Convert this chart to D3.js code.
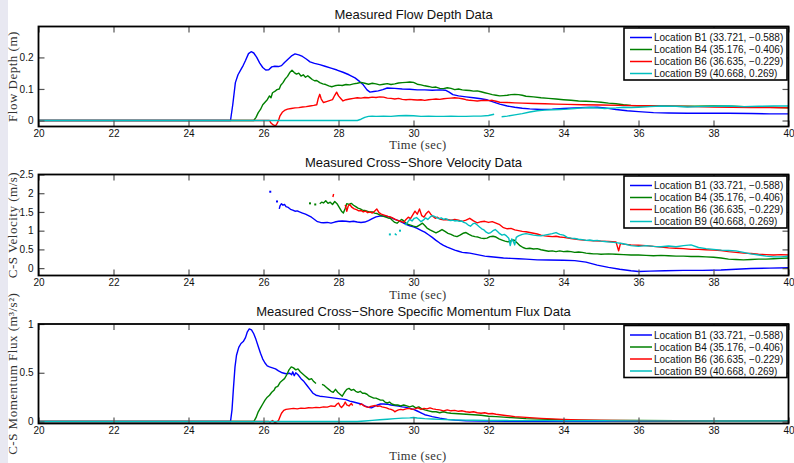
<!DOCTYPE html>
<html>
<head>
<meta charset="utf-8">
<script src="https://cdn.jsdelivr.net/npm/d3@7/dist/d3.min.js"></script>
<style>
body{margin:0;background:#fff}
svg{display:block}
</style>
</head>
<body>
<script>
// time (s) and value pairs, null = no data (gap)
var locations=["Location B1 (33.721, \u22120.588)","Location B4 (35.176, \u22120.406)","Location B6 (36.635, \u22120.229)","Location B9 (40.668, 0.269)"]
var xTicks=[20,22,24,26,28,30,32,34,36,38,40]
var depthTicks=[0,0.1,0.2]
var velTicks=[0,0.5,1,1.5,2,2.5]
var fluxTicks=[0,0.5,1]

var depthB1=[[20,0],[25.12,0],[25.18,0.05],[25.25,0.12],[25.32,0.145],[25.4,0.162],[25.46,0.175],[25.52,0.19],[25.6,0.212],[25.67,0.218],[25.74,0.214],[25.82,0.2],[25.9,0.182],[25.98,0.168],[26.06,0.16],[26.14,0.161],[26.22,0.17],[26.3,0.172],[26.4,0.171],[26.48,0.174],[26.56,0.184],[26.66,0.195],[26.76,0.206],[26.84,0.211],[26.94,0.208],[27.04,0.203],[27.14,0.195],[27.24,0.186],[27.36,0.181],[27.5,0.177],[27.64,0.172],[27.8,0.166],[27.96,0.16],[28.12,0.153],[28.28,0.145],[28.44,0.135],[28.56,0.124],[28.66,0.113],[28.76,0.097],[28.84,0.09],[28.94,0.092],[29.06,0.094],[29.18,0.098],[29.3,0.103],[29.5,0.102],[29.7,0.1],[29.9,0.099],[30.1,0.097],[30.3,0.097],[30.5,0.096],[30.7,0.097],[30.85,0.096],[30.95,0.09],[31.05,0.082],[31.2,0.078],[31.4,0.075],[31.6,0.072],[31.8,0.069],[31.95,0.066],[32.1,0.06],[32.3,0.052],[32.5,0.046],[32.7,0.042],[32.9,0.039],[33.1,0.037],[33.4,0.035],[33.7,0.036],[34.0,0.038],[34.3,0.04],[34.6,0.041],[34.9,0.042],[35.1,0.04],[35.4,0.035],[35.7,0.031],[36.0,0.028],[36.4,0.025],[36.8,0.024],[37.3,0.023],[37.8,0.023],[38.4,0.023],[39.0,0.022],[39.5,0.021],[40,0.021]]
var depthB4=[[20,0],[25.74,0],[25.8,0.01],[25.86,0.025],[25.92,0.035],[25.98,0.05],[26.04,0.058],[26.1,0.066],[26.16,0.078],[26.2,0.072],[26.24,0.088],[26.3,0.092],[26.36,0.098],[26.42,0.1],[26.46,0.112],[26.52,0.12],[26.58,0.132],[26.64,0.14],[26.7,0.152],[26.76,0.159],[26.82,0.152],[26.88,0.147],[26.94,0.15],[27.0,0.141],[27.06,0.145],[27.12,0.137],[27.18,0.142],[27.24,0.136],[27.3,0.13],[27.36,0.126],[27.42,0.127],[27.5,0.12],[27.58,0.116],[27.66,0.114],[27.74,0.11],[27.82,0.107],[27.9,0.11],[28.0,0.112],[28.1,0.111],[28.2,0.114],[28.3,0.113],[28.4,0.116],[28.5,0.118],[28.6,0.121],[28.7,0.118],[28.8,0.115],[28.9,0.118],[29.0,0.116],[29.1,0.113],[29.2,0.115],[29.3,0.117],[29.4,0.114],[29.5,0.116],[29.6,0.119],[29.7,0.12],[29.8,0.121],[29.9,0.122],[30.0,0.121],[30.1,0.115],[30.2,0.113],[30.3,0.11],[30.4,0.108],[30.5,0.105],[30.6,0.106],[30.7,0.102],[30.8,0.101],[30.9,0.104],[31.0,0.102],[31.1,0.098],[31.2,0.1],[31.3,0.097],[31.4,0.096],[31.5,0.095],[31.6,0.093],[31.7,0.094],[31.8,0.091],[31.9,0.088],[32.0,0.085],[32.1,0.082],[32.2,0.08],[32.3,0.078],[32.4,0.079],[32.5,0.08],[32.6,0.082],[32.7,0.083],[32.8,0.082],[32.9,0.08],[33.0,0.077],[33.2,0.075],[33.4,0.072],[33.6,0.07],[33.8,0.068],[34.0,0.066],[34.2,0.064],[34.4,0.062],[34.6,0.061],[34.8,0.06],[35.0,0.058],[35.2,0.055],[35.4,0.053],[35.6,0.05],[35.8,0.048],[36.0,0.047],[36.3,0.046],[36.6,0.046],[37.0,0.045],[37.5,0.045],[38.0,0.046],[38.5,0.045],[39.0,0.043],[39.5,0.042],[40,0.04]]
var depthB6=[[20,0],[26.16,0],[26.2,-0.008],[26.26,-0.014],[26.32,-0.017],[26.36,-0.01],[26.4,0.0],[26.44,0.015],[26.5,0.026],[26.56,0.032],[26.64,0.036],[26.74,0.038],[26.84,0.04],[26.94,0.041],[27.04,0.043],[27.14,0.044],[27.24,0.046],[27.34,0.048],[27.42,0.05],[27.46,0.07],[27.5,0.083],[27.54,0.068],[27.6,0.057],[27.68,0.06],[27.76,0.063],[27.84,0.066],[27.9,0.08],[27.95,0.09],[28.0,0.078],[28.06,0.07],[28.12,0.062],[28.2,0.066],[28.3,0.068],[28.4,0.07],[28.5,0.072],[28.6,0.071],[28.7,0.073],[28.8,0.072],[28.9,0.074],[29.0,0.073],[29.1,0.075],[29.2,0.074],[29.3,0.071],[29.4,0.07],[29.5,0.068],[29.6,0.07],[29.7,0.067],[29.8,0.066],[29.9,0.067],[30.0,0.066],[30.1,0.065],[30.2,0.066],[30.3,0.064],[30.4,0.066],[30.5,0.067],[30.6,0.068],[30.7,0.067],[30.8,0.069],[30.9,0.07],[31.0,0.071],[31.1,0.072],[31.2,0.071],[31.3,0.069],[31.4,0.066],[31.5,0.064],[31.6,0.063],[31.7,0.062],[31.8,0.063],[31.9,0.064],[32.0,0.063],[32.1,0.064],[32.2,0.061],[32.3,0.058],[32.5,0.057],[32.7,0.056],[32.9,0.055],[33.2,0.054],[33.5,0.053],[33.8,0.052],[34.1,0.051],[34.5,0.05],[35.0,0.049],[35.5,0.048],[36.0,0.047],[36.5,0.046],[37.0,0.045],[37.5,0.044],[38.0,0.043],[38.5,0.042],[39.0,0.041],[39.5,0.041],[40,0.04]]
var depthB9=[[20,0],[28.5,0],[28.6,0.004],[28.7,0.01],[28.8,0.013],[28.9,0.014],[29.0,0.013],[29.2,0.014],[29.4,0.013],[29.6,0.015],[29.8,0.016],[30.0,0.015],[30.2,0.013],[30.4,0.014],[30.6,0.013],[30.8,0.013],[31.0,0.014],[31.2,0.013],[31.4,0.013],[31.6,0.014],[31.8,0.014],[32.0,0.016],[32.15,0.02],[32.2,null],[32.32,null],[32.35,0.012],[32.5,0.014],[32.7,0.018],[32.9,0.022],[33.1,0.027],[33.3,0.031],[33.5,0.033],[33.7,0.034],[33.9,0.035],[34.1,0.036],[34.3,0.038],[34.5,0.04],[34.7,0.041],[34.9,0.04],[35.1,0.038],[35.4,0.04],[35.6,0.042],[35.8,0.041],[36.0,0.042],[36.3,0.044],[36.6,0.046],[37.0,0.045],[37.3,0.043],[37.6,0.044],[38.0,0.045],[38.4,0.046],[38.8,0.044],[39.2,0.045],[39.6,0.046],[40,0.046]]

var velB1=[[26.18,2.04],[26.22,null],[26.36,1.78],[26.39,null],[26.42,1.58],[26.44,1.66],[26.48,1.72],[26.52,1.68],[26.56,1.7],[26.6,1.64],[26.66,1.62],[26.72,1.57],[26.78,1.55],[26.84,1.52],[26.9,1.53],[26.96,1.5],[27.04,1.47],[27.12,1.44],[27.2,1.4],[27.28,1.36],[27.36,1.3],[27.44,1.24],[27.52,1.22],[27.6,1.21],[27.7,1.22],[27.8,1.2],[27.9,1.23],[28.0,1.25],[28.1,1.26],[28.2,1.25],[28.3,1.24],[28.4,1.25],[28.5,1.23],[28.6,1.22],[28.7,1.23],[28.8,1.27],[28.9,1.32],[29.0,1.37],[29.1,1.39],[29.2,1.39],[29.3,1.38],[29.4,1.35],[29.5,1.3],[29.6,1.27],[29.7,1.22],[29.8,1.17],[29.9,1.13],[30.0,1.1],[30.1,1.06],[30.2,1.01],[30.3,0.96],[30.4,0.89],[30.5,0.82],[30.6,0.74],[30.7,0.67],[30.8,0.61],[30.9,0.56],[31.0,0.52],[31.1,0.48],[31.2,0.45],[31.3,0.42],[31.4,0.41],[31.5,0.4],[31.6,0.38],[31.7,0.36],[31.8,0.34],[31.9,0.32],[32.0,0.31],[32.2,0.29],[32.4,0.27],[32.6,0.26],[32.8,0.25],[33.0,0.24],[33.3,0.22],[33.6,0.215],[34.0,0.21],[34.3,0.2],[34.6,0.16],[34.9,0.08],[35.2,0.02],[35.5,-0.03],[35.8,-0.07],[36.0,-0.09],[36.3,-0.08],[36.7,-0.07],[37.2,-0.06],[37.7,-0.06],[38.2,-0.05],[38.6,-0.03],[39.0,-0.01],[39.5,0.0],[40,0.01]]
var velB4=[[27.24,1.73],[27.3,null],[27.38,1.7],[27.44,null],[27.5,1.72],[27.55,1.76],[27.6,1.74],[27.66,1.8],[27.72,1.73],[27.78,1.76],[27.84,1.7],[27.9,1.78],[27.96,1.72],[28.02,1.62],[28.08,1.52],[28.13,1.47],[28.18,1.6],[28.22,1.72],[28.28,1.7],[28.34,1.73],[28.4,1.68],[28.46,1.64],[28.52,1.6],[28.58,1.58],[28.64,1.55],[28.7,1.54],[28.76,1.52],[28.82,1.5],[28.9,1.5],[28.96,1.47],[29.02,1.46],[29.08,1.43],[29.14,1.4],[29.2,1.38],[29.26,1.36],[29.32,1.34],[29.38,1.33],[29.44,1.27],[29.5,1.22],[29.56,1.2],[29.62,1.25],[29.68,1.3],[29.74,1.26],[29.8,1.2],[29.86,1.17],[29.92,1.15],[30.0,1.12],[30.08,1.1],[30.16,1.15],[30.24,1.2],[30.3,1.14],[30.36,1.07],[30.44,1.02],[30.52,0.98],[30.6,0.94],[30.68,0.98],[30.76,1.03],[30.84,0.98],[30.92,0.93],[31.0,0.9],[31.08,0.86],[31.16,0.84],[31.24,0.88],[31.32,0.93],[31.4,0.95],[31.48,0.9],[31.56,0.86],[31.64,0.84],[31.72,0.83],[31.8,0.8],[31.88,0.79],[31.96,0.8],[32.04,0.84],[32.12,0.85],[32.2,0.83],[32.28,0.78],[32.36,0.75],[32.44,0.72],[32.52,0.7],[32.6,0.73],[32.68,0.75],[32.76,0.68],[32.84,0.6],[32.92,0.55],[33.0,0.52],[33.1,0.53],[33.2,0.51],[33.3,0.52],[33.4,0.49],[33.5,0.47],[33.6,0.45],[33.7,0.46],[33.8,0.44],[33.9,0.46],[34.0,0.44],[34.1,0.45],[34.2,0.44],[34.3,0.42],[34.4,0.43],[34.5,0.42],[34.6,0.4],[34.7,0.39],[34.8,0.38],[34.9,0.38],[35.0,0.37],[35.2,0.38],[35.4,0.37],[35.6,0.36],[35.8,0.35],[36.0,0.35],[36.2,0.34],[36.4,0.33],[36.6,0.34],[36.8,0.33],[37.0,0.32],[37.2,0.32],[37.4,0.31],[37.6,0.31],[37.8,0.3],[38.0,0.29],[38.2,0.27],[38.4,0.24],[38.6,0.23],[38.8,0.22],[39.0,0.23],[39.2,0.24],[39.4,0.24],[39.6,0.25],[39.8,0.26],[40,0.27]]
var velB6=[[27.85,1.9],[27.87,1.98],[27.9,null],[28.18,1.69],[28.22,1.52],[28.26,1.66],[28.3,1.7],[28.36,1.62],[28.42,1.58],[28.48,1.56],[28.54,1.53],[28.6,1.54],[28.66,1.5],[28.72,1.52],[28.78,1.48],[28.84,1.5],[28.9,1.47],[28.96,1.52],[29.02,1.58],[29.08,1.48],[29.14,1.44],[29.2,1.42],[29.26,1.4],[29.32,1.38],[29.38,1.37],[29.44,1.34],[29.5,1.31],[29.56,1.28],[29.62,1.26],[29.68,1.24],[29.74,1.22],[29.8,1.3],[29.86,1.36],[29.92,1.32],[29.98,1.42],[30.04,1.52],[30.1,1.44],[30.16,1.58],[30.22,1.4],[30.28,1.36],[30.34,1.46],[30.4,1.52],[30.46,1.44],[30.52,1.38],[30.58,1.33],[30.64,1.36],[30.7,1.31],[30.8,1.29],[30.9,1.3],[31.0,1.28],[31.1,1.3],[31.2,1.28],[31.3,1.25],[31.4,1.28],[31.5,1.33],[31.6,1.26],[31.7,1.21],[31.8,1.24],[31.9,1.25],[32.0,1.22],[32.1,1.24],[32.2,1.2],[32.3,1.16],[32.4,1.08],[32.5,1.05],[32.6,1.06],[32.7,1.02],[32.8,1.0],[32.9,0.98],[33.0,0.97],[33.1,0.95],[33.2,0.93],[33.3,0.91],[33.4,0.88],[33.5,0.86],[33.6,0.85],[33.7,0.84],[33.8,0.85],[33.9,0.83],[34.0,0.82],[34.2,0.79],[34.4,0.76],[34.6,0.74],[34.8,0.73],[35.0,0.72],[35.2,0.71],[35.4,0.7],[35.47,0.46],[35.52,0.66],[35.6,0.64],[35.8,0.62],[36.0,0.61],[36.2,0.6],[36.4,0.58],[36.6,0.56],[36.8,0.54],[37.0,0.53],[37.2,0.52],[37.4,0.5],[37.6,0.5],[37.8,0.49],[38.0,0.48],[38.2,0.47],[38.4,0.44],[38.6,0.42],[38.8,0.4],[39.0,0.39],[39.2,0.37],[39.4,0.36],[39.6,0.35],[39.8,0.36],[40,0.35]]
var velB9=[[29.37,0.9],[29.42,null],[29.5,0.92],[29.55,0.88],[29.58,null],[29.64,1.0],[29.68,null],[29.78,1.15],[29.84,1.22],[29.9,1.3],[29.96,1.26],[30.02,1.33],[30.08,1.35],[30.14,1.3],[30.2,1.24],[30.26,1.28],[30.32,1.34],[30.38,1.3],[30.44,1.36],[30.5,1.4],[30.56,1.38],[30.62,1.35],[30.68,1.32],[30.74,1.34],[30.8,1.3],[30.86,1.32],[30.92,1.29],[30.98,1.27],[31.04,1.28],[31.1,1.26],[31.16,1.27],[31.22,1.25],[31.28,1.26],[31.34,1.22],[31.4,1.2],[31.46,1.15],[31.52,1.12],[31.58,1.18],[31.64,1.2],[31.7,1.15],[31.76,1.1],[31.82,1.05],[31.88,1.02],[31.94,0.96],[32.0,0.93],[32.06,0.95],[32.12,1.0],[32.18,1.03],[32.24,0.98],[32.3,0.92],[32.36,0.88],[32.42,0.9],[32.48,0.86],[32.54,0.8],[32.58,0.6],[32.62,0.78],[32.66,0.72],[32.7,0.62],[32.74,0.82],[32.8,0.86],[32.9,0.9],[33.0,0.92],[33.1,0.9],[33.2,0.88],[33.3,0.87],[33.4,0.86],[33.5,0.88],[33.6,0.9],[33.7,0.92],[33.8,0.95],[33.9,0.9],[34.0,0.88],[34.1,0.82],[34.2,0.8],[34.3,0.79],[34.4,0.77],[34.5,0.76],[34.6,0.74],[34.7,0.75],[34.8,0.73],[34.9,0.74],[35.0,0.72],[35.1,0.71],[35.2,0.7],[35.4,0.68],[35.6,0.65],[35.8,0.6],[36.0,0.58],[36.2,0.6],[36.4,0.58],[36.6,0.57],[36.8,0.59],[37.0,0.57],[37.2,0.6],[37.4,0.62],[37.6,0.55],[37.8,0.52],[38.0,0.5],[38.2,0.48],[38.4,0.47],[38.6,0.46],[38.8,0.42],[39.0,0.38],[39.2,0.35],[39.4,0.32],[39.6,0.3],[39.8,0.3],[40,0.32]]

var fluxB1=[[20,0],[25.12,0],[25.16,0.12],[25.2,0.35],[25.24,0.56],[25.28,0.68],[25.34,0.76],[25.4,0.8],[25.46,0.82],[25.52,0.86],[25.57,0.92],[25.62,0.95],[25.68,0.94],[25.74,0.9],[25.8,0.84],[25.86,0.77],[25.92,0.7],[25.98,0.64],[26.04,0.6],[26.1,0.57],[26.16,0.56],[26.24,0.55],[26.32,0.54],[26.4,0.52],[26.5,0.5],[26.6,0.49],[26.7,0.495],[26.75,0.48],[26.78,0.51],[26.82,0.47],[26.86,0.5],[26.92,0.48],[27.0,0.44],[27.08,0.41],[27.16,0.37],[27.24,0.33],[27.32,0.29],[27.4,0.27],[27.5,0.26],[27.6,0.255],[27.7,0.25],[27.8,0.245],[27.9,0.24],[28.0,0.235],[28.1,0.23],[28.2,0.225],[28.3,0.21],[28.4,0.2],[28.5,0.19],[28.6,0.18],[28.7,0.16],[28.8,0.145],[28.88,0.14],[28.96,0.155],[29.04,0.17],[29.12,0.18],[29.2,0.18],[29.3,0.178],[29.4,0.17],[29.5,0.165],[29.6,0.158],[29.7,0.15],[29.8,0.145],[29.9,0.135],[30.0,0.125],[30.1,0.108],[30.2,0.09],[30.3,0.07],[30.4,0.06],[30.5,0.05],[30.7,0.035],[30.9,0.022],[31.1,0.015],[31.4,0.008],[31.8,0.004],[32.5,0.002],[40,0.002]]
var fluxB4=[[20,0],[25.74,0],[25.8,0.04],[25.86,0.1],[25.92,0.14],[25.98,0.18],[26.04,0.22],[26.1,0.25],[26.16,0.27],[26.22,0.3],[26.28,0.32],[26.32,0.35],[26.38,0.36],[26.44,0.4],[26.5,0.42],[26.56,0.44],[26.62,0.48],[26.68,0.53],[26.74,0.56],[26.8,0.55],[26.86,0.53],[26.92,0.54],[26.98,0.51],[27.04,0.49],[27.1,0.47],[27.16,0.45],[27.22,0.43],[27.28,0.44],[27.34,0.41],[27.4,0.39],[27.44,null],[27.52,null],[27.56,0.38],[27.62,0.37],[27.68,0.35],[27.74,0.33],[27.8,0.31],[27.86,0.3],[27.92,0.33],[27.98,0.3],[28.04,0.28],[28.1,0.26],[28.16,0.3],[28.22,0.33],[28.28,0.34],[28.34,0.32],[28.4,0.33],[28.46,0.31],[28.52,0.3],[28.58,0.31],[28.64,0.29],[28.7,0.29],[28.76,0.28],[28.82,0.26],[28.88,0.25],[28.94,0.24],[29.0,0.24],[29.06,0.23],[29.12,0.22],[29.18,0.22],[29.24,0.2],[29.3,0.19],[29.36,0.2],[29.42,0.18],[29.5,0.17],[29.58,0.17],[29.66,0.16],[29.74,0.17],[29.82,0.16],[29.9,0.15],[29.98,0.16],[30.06,0.14],[30.14,0.15],[30.22,0.13],[30.3,0.12],[30.4,0.11],[30.5,0.1],[30.6,0.1],[30.7,0.09],[30.8,0.1],[30.9,0.09],[31.0,0.085],[31.2,0.08],[31.4,0.075],[31.6,0.07],[31.8,0.065],[32.0,0.055],[32.2,0.05],[32.4,0.045],[32.6,0.04],[32.8,0.036],[33.0,0.03],[33.4,0.025],[33.8,0.02],[34.3,0.015],[35.0,0.012],[36.0,0.01],[37.0,0.008],[38.0,0.007],[39.0,0.006],[40,0.005]]
var fluxB6=[[20,0],[26.14,0],[26.18,-0.005],[26.24,0.01],[26.3,-0.01],[26.36,0],[26.4,0.01],[26.44,0.05],[26.48,0.085],[26.54,0.115],[26.6,0.125],[26.7,0.13],[26.8,0.135],[26.9,0.13],[27.0,0.138],[27.1,0.135],[27.2,0.142],[27.3,0.14],[27.4,0.145],[27.5,0.143],[27.6,0.15],[27.7,0.148],[27.8,0.16],[27.9,0.155],[27.96,0.18],[28.0,0.19],[28.04,0.16],[28.08,0.145],[28.14,0.17],[28.18,0.2],[28.22,0.17],[28.28,0.16],[28.34,0.185],[28.38,0.165],[28.42,null],[28.5,null],[28.56,0.17],[28.62,0.18],[28.68,0.16],[28.74,0.15],[28.8,0.145],[28.86,0.155],[28.92,0.16],[28.98,0.165],[29.04,0.155],[29.1,0.16],[29.16,0.15],[29.22,0.145],[29.28,0.14],[29.34,0.13],[29.4,0.125],[29.46,0.115],[29.5,0.1],[29.54,0.11],[29.6,0.12],[29.66,0.125],[29.72,0.12],[29.8,0.13],[29.88,0.135],[29.96,0.125],[30.04,0.13],[30.12,0.14],[30.2,0.125],[30.28,0.135],[30.36,0.13],[30.44,0.14],[30.52,0.13],[30.6,0.125],[30.7,0.12],[30.8,0.11],[30.9,0.12],[31.0,0.11],[31.1,0.115],[31.2,0.105],[31.3,0.11],[31.4,0.1],[31.5,0.095],[31.6,0.1],[31.7,0.09],[31.8,0.085],[31.9,0.09],[32.0,0.08],[32.1,0.082],[32.2,0.075],[32.3,0.07],[32.4,0.065],[32.5,0.06],[32.7,0.05],[32.9,0.045],[33.1,0.04],[33.4,0.033],[33.7,0.027],[34.0,0.022],[34.4,0.017],[34.8,0.014],[35.3,0.011],[36.0,0.009],[37.0,0.007],[38.0,0.005],[39.0,0.004],[40,0.003]]
var fluxB9=[[20,0],[28.5,0],[28.7,0.006],[28.9,0.012],[29.1,0.018],[29.3,0.024],[29.5,0.03],[29.7,0.035],[29.9,0.038],[30.0,0.042],[30.1,0.036],[30.3,0.03],[30.5,0.026],[30.7,0.022],[31.0,0.018],[31.3,0.015],[31.6,0.013],[32.0,0.011],[32.5,0.01],[33.0,0.009],[33.5,0.009],[34.0,0.008],[35.0,0.008],[36.0,0.007],[37.0,0.007],[38.0,0.006],[39.0,0.006],[40,0.006]]

var colors=["#0000ff","#008000","#ff0000","#00bfbf"]

var screen={width:794,height:463}
var left=38.5,right=788.5

var panels=[
  {top:26.5,bottom:126.5,domain:[-0.019,0.298],ticks:depthTicks,title:"Measured Flow Depth Data",titleY:18.5,ylabel:"Flow Depth (m)",xlabelY:149,series:[depthB1,depthB4,depthB6,depthB9]},
  {top:174.5,bottom:275.5,domain:[-0.197,2.5],ticks:velTicks,title:"Measured Cross\u2212Shore Velocity Data",titleY:167,ylabel:"C-S Velocity (m/s)",xlabelY:298.5,series:[velB1,velB4,velB6,velB9]},
  {top:324,bottom:423.5,domain:[-0.02,1],ticks:fluxTicks,title:"Measured Cross\u2212Shore Specific Momentum Flux Data",titleY:315.5,ylabel:"C-S Momentum Flux (m\u00b3/s\u00b2)",xlabelY:459.5,series:[fluxB1,fluxB4,fluxB6,fluxB9]}
]

var svg=d3.select("body").append("svg")
          .attr("width",screen.width)
          .attr("height",screen.height)

svg.append("rect").attr("x",0).attr("y",0).attr("width",8).attr("height",screen.height).attr("fill","#e8e8f1")

var xScale=d3.scaleLinear().domain([20,40]).range([left,right])

panels.forEach(function(p,pi){
  var yScale=d3.scaleLinear().domain(p.domain).range([p.bottom,p.top])
  var g=svg.append("g")

  g.append("clipPath").attr("id","clip"+pi)
   .append("rect").attr("x",left).attr("y",p.top).attr("width",right-left).attr("height",p.bottom-p.top)

  var plot=g.append("g").attr("clip-path","url(#clip"+pi+")")
  var line=d3.line()
             .defined(function(d){return d[1]!=null})
             .x(function(d){return xScale(d[0])})
             .y(function(d){return yScale(d[1])})

  p.series.forEach(function(s,si){
    plot.append("path")
        .datum(s)
        .attr("d",line)
        .attr("fill","none")
        .attr("stroke",colors[si])
        .attr("stroke-width",1.4)
        .attr("stroke-linejoin","round")
    // lone samples between gaps -> small dots
    var lone=s.filter(function(d,i){
      if(d[1]==null) return false
      var prev=i>0?s[i-1][1]:null, next=i<s.length-1?s[i+1][1]:null
      return prev==null&&next==null
    })
    plot.selectAll(".dot"+si).data(lone).enter().append("rect")
        .attr("x",function(d){return xScale(d[0])-1})
        .attr("y",function(d){return yScale(d[1])-1})
        .attr("width",2).attr("height",2)
        .attr("fill",colors[si])
  })

  //axis
  var xb=d3.axisBottom(xScale).tickValues(xTicks).tickSize(-6).tickPadding(3.5)
  var xt=d3.axisTop(xScale).tickValues(xTicks).tickSize(-6).tickFormat("")
  var yl=d3.axisLeft(yScale).tickValues(p.ticks).tickSize(-6).tickPadding(5).tickFormat(d3.format("~g"))
  var yr=d3.axisRight(yScale).tickValues(p.ticks).tickSize(-6).tickFormat("")
  g.append("g").attr("transform","translate(0,"+p.bottom+")").call(xb)
  g.append("g").attr("transform","translate(0,"+p.top+")").call(xt)
  g.append("g").attr("transform","translate("+left+",0)").call(yl)
  g.append("g").attr("transform","translate("+right+",0)").call(yr)
  g.selectAll(".domain").remove()
  g.selectAll(".tick line").attr("stroke","#555").attr("stroke-width",1.2)
  g.selectAll(".tick text").attr("font-family","'Liberation Sans', Arial, sans-serif").attr("font-size",10).attr("fill","#111")

  g.append("rect")
   .attr("x",left).attr("y",p.top)
   .attr("width",right-left).attr("height",p.bottom-p.top)
   .attr("fill","none").attr("stroke","#000").attr("stroke-width",1.8)

  g.append("text")
   .attr("x",413.5).attr("y",p.titleY)
   .attr("text-anchor","middle")
   .attr("font-family","'Liberation Sans', Arial, sans-serif")
   .attr("font-size",13)
   .attr("fill","#111")
   .text(p.title)

  g.append("text")
   .attr("x",418).attr("y",p.xlabelY)
   .attr("text-anchor","middle")
   .attr("font-family","'Liberation Serif', serif")
   .attr("font-size",12.5)
   .attr("letter-spacing",0.4)
   .attr("fill","#333")
   .text("Time (sec)")

  g.append("text")
   .attr("transform","translate(17,"+((p.top+p.bottom)/2)+") rotate(-90)")
   .attr("text-anchor","middle")
   .attr("font-family","'Liberation Serif', serif")
   .attr("font-size",13)
   .attr("letter-spacing",0.5)
   .attr("fill","#333")
   .text(p.ylabel)

  //legend
  var legend=g.append("g")
              .attr("transform","translate(624,"+(p.top+1.5)+")")
  legend.append("rect")
        .attr("x",0).attr("y",0).attr("width",163).attr("height",52)
        .attr("fill","#fff").attr("stroke","#000").attr("stroke-width",1.6)
  var rows=legend.selectAll("g").data(locations).enter().append("g")
                 .attr("transform",function(d,i){return "translate(0,"+(9.5+i*12)+")"})
  rows.append("line")
      .attr("x1",6).attr("x2",28).attr("y1",0).attr("y2",0)
      .attr("stroke",function(d,i){return colors[i]}).attr("stroke-width",1.5)
  rows.append("text")
      .attr("x",30).attr("y",3.6)
      .attr("font-family","'Liberation Sans', Arial, sans-serif")
      .attr("font-size",10)
      .attr("fill","#111")
      .text(function(d){return d})
})
</script>
</body>
</html>
